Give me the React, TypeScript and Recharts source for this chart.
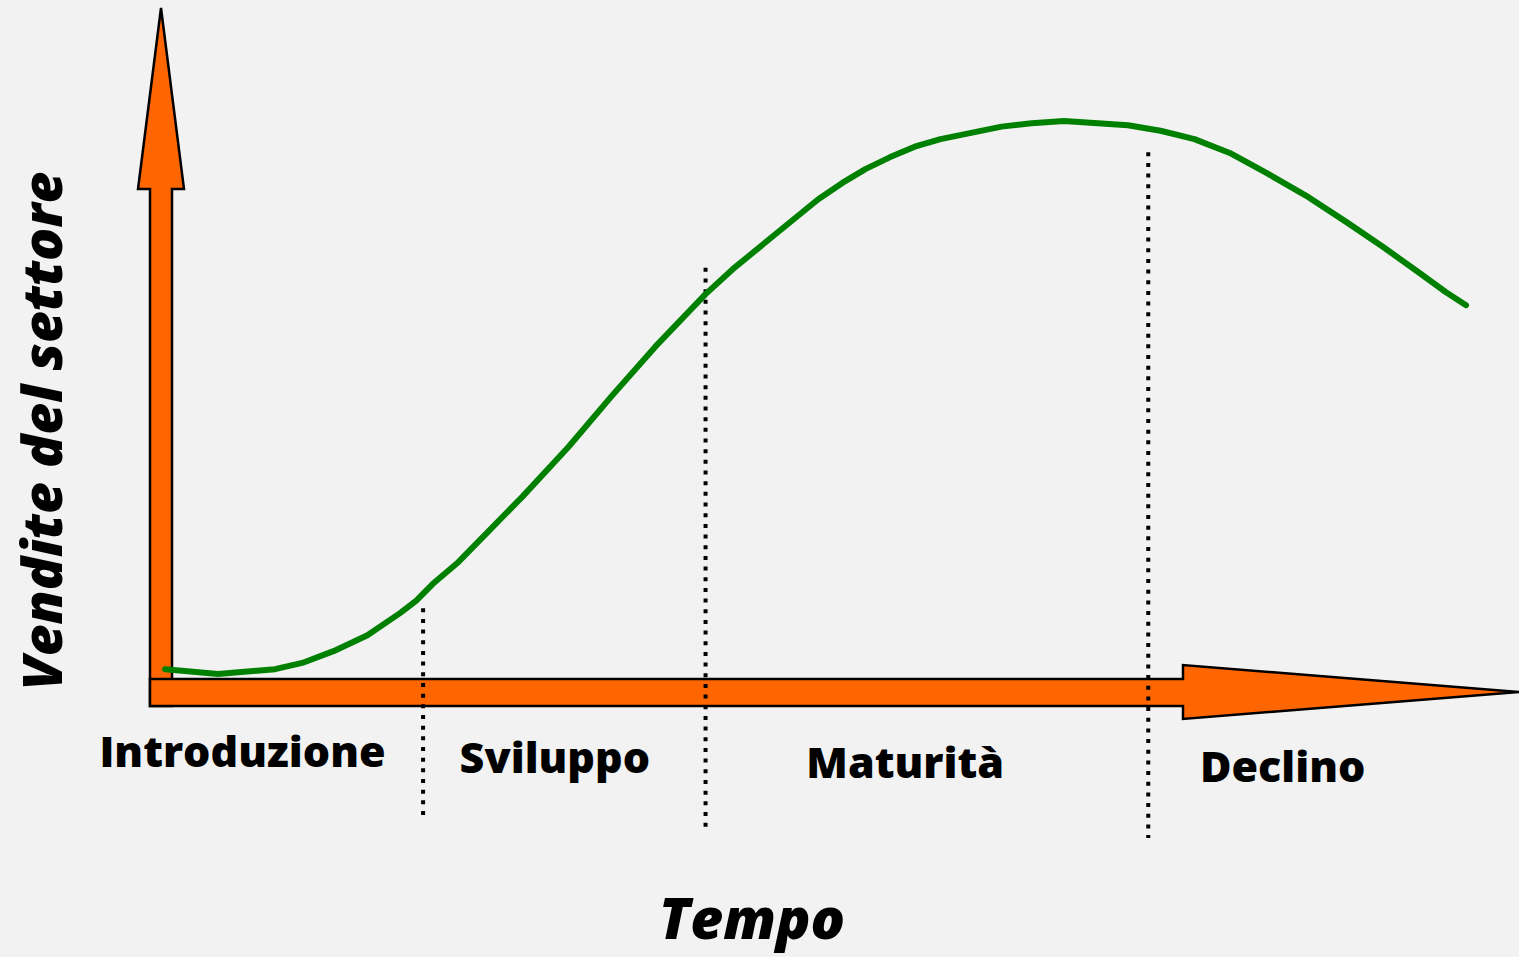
import React from 'react';
import { LineChart, Line, XAxis, YAxis, ReferenceLine, Label } from 'recharts';

// time (arbitrary units, 0-100) and industry sales (0-100)
const time = [
  0.3, 4.2, 8.4, 10.4, 12.7, 15.2, 17.6, 18.8, 20.0, 21.8, 24.2, 26.6, 30.0, 33.2,
  36.4, 40.1, 42.1, 44.9, 48.4, 50.2, 51.9, 53.7, 55.5, 57.4, 61.9, 64.1, 66.5,
  71.2, 73.6, 76.1, 78.7, 81.5, 84.5, 87.3, 90.0, 92.5, 94.6, 96.1,
];
const sales = [
  3.3, 2.6, 3.3, 4.2, 5.9, 8.2, 11.4, 13.2, 15.6, 18.6, 23.4, 28.2, 35.4, 42.8,
  49.9, 57.5, 61.1, 65.6, 71.2, 73.6, 75.6, 77.3, 78.8, 79.9, 81.7, 82.2, 82.5,
  81.9, 81.1, 79.9, 77.9, 74.9, 71.5, 67.9, 64.3, 60.8, 57.8, 55.9,
];

// lifecycle phases
const phases = ['Introduzione', 'Sviluppo', 'Maturità', 'Declino'];
const phaseLabelAt = [6.0, 29.0, 54.8, 82.6];

// dotted dividers between phases: x, top and bottom (sales units)
const dividerAt = [19.3, 40.1, 72.7];
const dividerTop = [12.1, 61.3, 78.0];
const dividerBottom = [-17.8, -19.7, -21.1];

const data = time.map((t, i) => ({ t, s: sales[i] }));

const W = 1519;
const H = 957;
const Y_AXIS_W = 161;
const X_AXIS_H = 200;
const BOTTOM = 65;
const plotBottom = H - BOTTOM - X_AXIS_H; // 692
const font = '"Open Sans", Lato, sans-serif';
const labelDrop = [75, 81, 86, 90];

function Arrows() {
  const ox = Y_AXIS_W;
  const oy = plotBottom;
  const vertical = [
    [ox - 11, oy + 14], [ox - 11, 189], [ox - 23, 189], [ox, 8],
    [ox + 23, 189], [ox + 11, 189], [ox + 11, oy + 14],
  ];
  const horizontal = [
    [ox - 11, oy - 13], [1183, oy - 13], [1183, oy - 27], [W, oy],
    [1183, oy + 27], [1183, oy + 14], [ox - 11, oy + 14],
  ];
  const pts = (p: number[][]) => p.map(([x, y]) => `${x},${y}`).join(' ');
  return (
    <svg width={W} height={H} style={{ position: 'absolute', left: 0, top: 0 }}>
      <polygon points={pts(vertical)} fill="#ff6600" stroke="#000" strokeWidth={2.5} strokeLinejoin="miter" />
      <polygon points={pts(horizontal)} fill="#ff6600" stroke="#000" strokeWidth={2.5} strokeLinejoin="miter" />
    </svg>
  );
}

const PhaseTick = ({ x, index }: any) => (
  <text x={x} y={plotBottom + labelDrop[index]} textAnchor="middle" fontFamily={font} fontWeight={800} fontSize={43} fill="#000">
    {phases[index]}
  </text>
);

export default function App() {
  return (
    <div style={{ position: 'absolute', left: 0, top: 0, width: W, height: H, background: '#f2f2f2', overflow: 'hidden' }}>
      <Arrows />
      <div style={{ position: 'absolute', left: 0, top: 0 }}>
        <LineChart width={W} height={H} data={data} margin={{ top: 0, right: 0, left: 0, bottom: BOTTOM }}>
          <XAxis
            type="number"
            dataKey="t"
            domain={[0, 100]}
            ticks={phaseLabelAt}
            interval={0}
            height={X_AXIS_H}
            axisLine={false}
            tickLine={false}
            tick={<PhaseTick />}
          >
            <Label
              content={() => (
                <text x={752} y={939} textAnchor="middle" fontFamily={font} fontWeight={800} fontStyle="italic" fontSize={57} fill="#000">
                  Tempo
                </text>
              )}
            />
          </XAxis>
          <YAxis type="number" domain={[0, 100]} width={Y_AXIS_W} axisLine={false} tickLine={false} tick={false}>
            <Label
              content={() => (
                <text
                  x={62}
                  y={431}
                  transform="rotate(-90 62 431)"
                  textAnchor="middle"
                  fontFamily={font}
                  fontWeight={800}
                  fontStyle="italic"
                  fontSize={55}
                  fill="#000"
                >
                  Vendite del settore
                </text>
              )}
            />
          </YAxis>
          {dividerAt.map((x, i) => (
            <ReferenceLine
              key={x}
              segment={[{ x, y: dividerTop[i] }, { x, y: dividerBottom[i] }]}
              stroke="#000"
              strokeWidth={4}
              strokeDasharray="4 6.67"
              ifOverflow="visible"
            />
          ))}
          <Line
            type="linear"
            dataKey="s"
            stroke="#008000"
            strokeWidth={6}
            strokeLinecap="round"
            strokeLinejoin="round"
            dot={false}
            isAnimationActive={false}
          />
        </LineChart>
      </div>
    </div>
  );
}
